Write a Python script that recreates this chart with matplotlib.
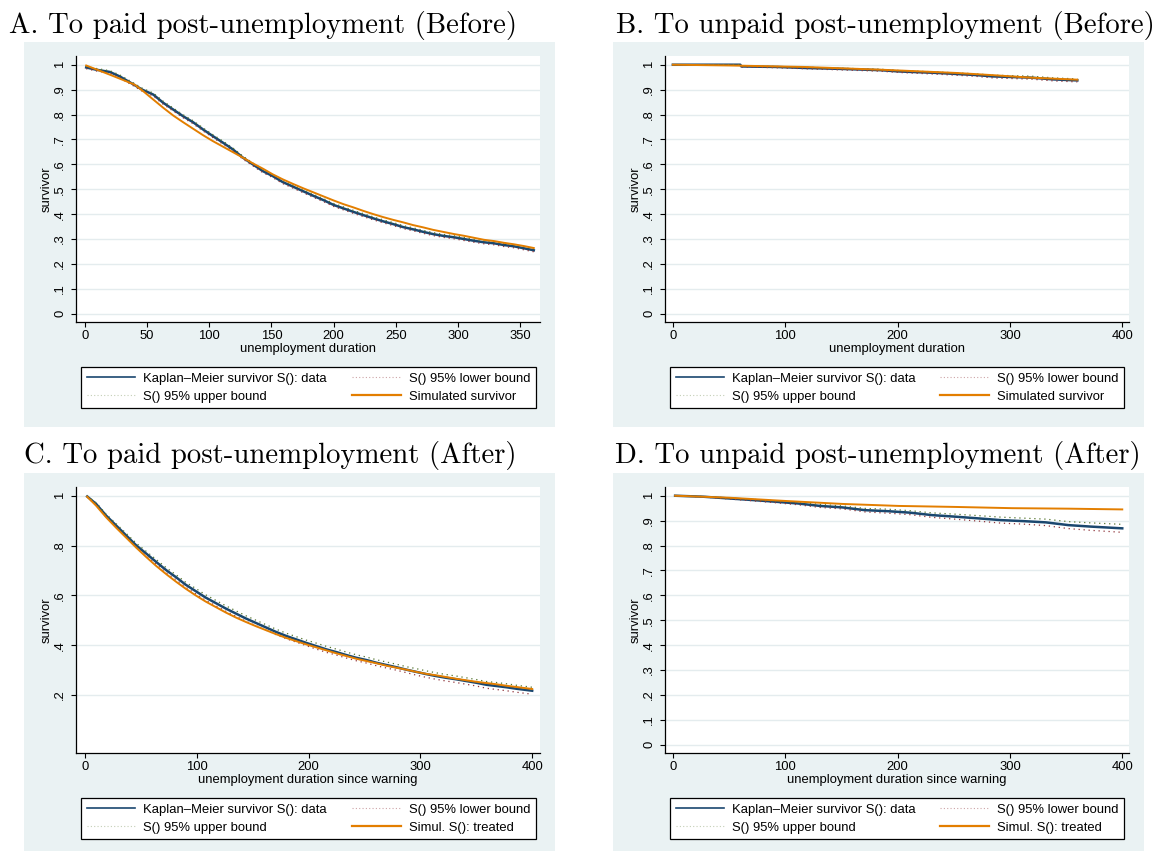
import matplotlib
matplotlib.use("Agg")
import matplotlib.pyplot as plt
from matplotlib.patches import Rectangle
from matplotlib.lines import Line2D

# ---------------- data ----------------
# Panel A: to paid post-unemployment (Before)
a_km_t = [1, 9, 20, 28, 38, 46, 55, 63, 71, 79, 87, 95, 103, 111, 119, 127, 135, 143, 151, 159,
          168, 176, 184, 192, 200, 208, 216, 224, 232, 240, 248, 256, 264, 272, 280, 288, 297, 305,
          313, 321, 329, 337, 345, 353, 361]
a_km = [0.989, 0.980, 0.971, 0.953, 0.924, 0.900, 0.880, 0.847, 0.820, 0.793, 0.769, 0.740, 0.713,
        0.687, 0.660, 0.627, 0.600, 0.573, 0.553, 0.529, 0.509, 0.491, 0.473, 0.456, 0.437, 0.423,
        0.409, 0.396, 0.383, 0.371, 0.360, 0.348, 0.339, 0.329, 0.320, 0.313, 0.307, 0.300, 0.293,
        0.287, 0.283, 0.276, 0.271, 0.263, 0.255]
a_lo = [0.984, 0.975, 0.966, 0.947, 0.918, 0.894, 0.874, 0.841, 0.814, 0.787, 0.763, 0.734, 0.707,
        0.681, 0.654, 0.621, 0.594, 0.567, 0.547, 0.523, 0.503, 0.485, 0.467, 0.450, 0.431, 0.417,
        0.403, 0.390, 0.377, 0.365, 0.354, 0.342, 0.333, 0.323, 0.314, 0.307, 0.301, 0.294, 0.287,
        0.281, 0.277, 0.270, 0.265, 0.257, 0.249]
a_hi = [0.993, 0.985, 0.976, 0.959, 0.930, 0.906, 0.886, 0.853, 0.826, 0.799, 0.775, 0.746, 0.719,
        0.693, 0.666, 0.633, 0.606, 0.579, 0.559, 0.535, 0.515, 0.497, 0.479, 0.462, 0.443, 0.429,
        0.415, 0.402, 0.389, 0.377, 0.366, 0.354, 0.345, 0.335, 0.326, 0.319, 0.313, 0.306, 0.299,
        0.293, 0.289, 0.282, 0.277, 0.269, 0.261]
a_sim_t = [1, 20, 40, 47, 55, 63, 71, 79, 87, 95, 103, 111, 119, 127, 135, 143, 151, 159, 168, 176,
           184, 192, 200, 208, 216, 224, 232, 240, 248, 256, 264, 272, 280, 288, 297, 305, 313, 321,
           329, 337, 345, 353, 361]
a_sim = [0.997, 0.960, 0.920, 0.893, 0.860, 0.827, 0.796, 0.769, 0.743, 0.717, 0.693, 0.671, 0.649,
         0.627, 0.604, 0.583, 0.560, 0.540, 0.520, 0.503, 0.487, 0.471, 0.455, 0.440, 0.427, 0.413,
         0.400, 0.388, 0.377, 0.367, 0.356, 0.347, 0.337, 0.329, 0.320, 0.313, 0.305, 0.297, 0.292,
         0.285, 0.279, 0.272, 0.264]

# Panel B: to unpaid post-unemployment (Before)
b_km_t = [0, 60, 61, 92, 117, 151, 185, 201, 235, 268, 285, 319, 339, 360]
b_km = [1.000, 1.000, 0.993, 0.991, 0.987, 0.983, 0.978, 0.973, 0.967, 0.959, 0.953, 0.948, 0.941, 0.937]
b_lo = [1.000, 0.999, 0.991, 0.988, 0.984, 0.979, 0.974, 0.969, 0.962, 0.954, 0.947, 0.942, 0.935, 0.931]
b_hi = [1.000, 1.000, 0.995, 0.993, 0.990, 0.986, 0.982, 0.977, 0.971, 0.964, 0.958, 0.954, 0.947, 0.943]
b_sim_t = [0, 50, 117, 185, 252, 285, 319, 360]
b_sim = [1.000, 0.997, 0.991, 0.980, 0.967, 0.958, 0.948, 0.940]

# Panel C: to paid post-unemployment (After)
c_km_t = [2, 10, 19, 28, 37, 46, 55, 64, 73, 82, 90, 99, 108, 117, 126, 135, 144, 153, 162, 171,
          180, 189, 198, 207, 216, 225, 234, 243, 252, 261, 270, 279, 288, 296, 305, 314, 323, 332,
          341, 350, 359, 368, 377, 386, 400]
c_km = [0.997, 0.967, 0.920, 0.880, 0.840, 0.800, 0.767, 0.733, 0.700, 0.671, 0.643, 0.617, 0.591,
        0.569, 0.547, 0.527, 0.507, 0.489, 0.471, 0.453, 0.437, 0.423, 0.409, 0.396, 0.383, 0.372,
        0.360, 0.349, 0.340, 0.329, 0.320, 0.311, 0.301, 0.293, 0.284, 0.276, 0.269, 0.263, 0.256,
        0.249, 0.241, 0.236, 0.231, 0.225, 0.217]
c_hi = [0.999, 0.972, 0.926, 0.887, 0.848, 0.809, 0.776, 0.743, 0.710, 0.681, 0.653, 0.628, 0.602,
        0.580, 0.558, 0.538, 0.518, 0.500, 0.482, 0.464, 0.448, 0.434, 0.420, 0.408, 0.395, 0.384,
        0.372, 0.361, 0.352, 0.341, 0.332, 0.323, 0.313, 0.306, 0.297, 0.289, 0.282, 0.276, 0.269,
        0.262, 0.254, 0.250, 0.245, 0.239, 0.231]
c_lo = [0.995, 0.962, 0.914, 0.873, 0.832, 0.791, 0.758, 0.724, 0.690, 0.661, 0.633, 0.606, 0.580,
        0.558, 0.536, 0.516, 0.496, 0.478, 0.460, 0.442, 0.426, 0.412, 0.398, 0.384, 0.371, 0.360,
        0.348, 0.337, 0.328, 0.317, 0.308, 0.299, 0.289, 0.280, 0.271, 0.263, 0.256, 0.250, 0.243,
        0.236, 0.227, 0.222, 0.217, 0.211, 0.203]
c_sim_t = c_km_t
c_sim = [0.996, 0.960, 0.913, 0.871, 0.831, 0.791, 0.753, 0.717, 0.684, 0.653, 0.627, 0.600, 0.575,
         0.553, 0.531, 0.511, 0.493, 0.476, 0.460, 0.444, 0.429, 0.416, 0.403, 0.391, 0.379, 0.367,
         0.356, 0.345, 0.336, 0.327, 0.317, 0.309, 0.301, 0.293, 0.285, 0.279, 0.272, 0.265, 0.259,
         0.253, 0.248, 0.243, 0.237, 0.232, 0.224]

# Panel D: to unpaid post-unemployment (After)
d_km_t = [2, 27, 50, 70, 91, 111, 131, 151, 171, 191, 211, 231, 251, 272, 292, 312, 332, 352, 372, 400]
d_km = [1.000, 0.996, 0.989, 0.983, 0.976, 0.969, 0.959, 0.953, 0.942, 0.938, 0.932, 0.922, 0.916,
        0.909, 0.902, 0.898, 0.893, 0.882, 0.876, 0.869]
d_lo = [1.000, 0.995, 0.987, 0.980, 0.972, 0.964, 0.953, 0.947, 0.935, 0.930, 0.924, 0.913, 0.906,
        0.898, 0.890, 0.886, 0.880, 0.868, 0.861, 0.853]
d_hi = [1.000, 0.997, 0.991, 0.986, 0.980, 0.974, 0.965, 0.959, 0.949, 0.946, 0.940, 0.931, 0.926,
        0.920, 0.914, 0.910, 0.906, 0.896, 0.891, 0.885]
d_sim_t = [2, 50, 100, 151, 201, 251, 302, 352, 400]
d_sim = [1.000, 0.992, 0.979, 0.967, 0.959, 0.955, 0.950, 0.948, 0.945]

titles = ["A. To paid post-unemployment (Before)",
          "B. To unpaid post-unemployment (Before)",
          "C. To paid post-unemployment (After)",
          "D. To unpaid post-unemployment (After)"]
xlabels = ["unemployment duration", "unemployment duration",
           "unemployment duration since warning", "unemployment duration since warning"]
ylabel = "survivor"
xticks_a = [0, 50, 100, 150, 200, 250, 300, 350]
xticks_400 = [0, 100, 200, 300, 400]
yticks_full = [0, 0.1, 0.2, 0.3, 0.4, 0.5, 0.6, 0.7, 0.8, 0.9, 1.0]
yticklabels_full = ["0", ".1", ".2", ".3", ".4", ".5", ".6", ".7", ".8", ".9", "1"]
yticks_c = [0.2, 0.4, 0.6, 0.8, 1.0]
yticklabels_c = [".2", ".4", ".6", ".8", "1"]
legend_km = "Kaplan\u2013Meier survivor S(): data"
legend_lo = "S() 95% lower bound"
legend_hi = "S() 95% upper bound"
legend_sim = ["Simulated survivor", "Simulated survivor", "Simul. S(): treated", "Simul. S(): treated"]

# ---------------- style ----------------
W, H = 1167, 852
NAVY = "#1a476f"
MAROON = "#90353b"
GREEN = "#55752f"
ORANGE = "#e37e00"
BG = "#eaf2f3"
GRID = "#e4ecee"
SANS = "Liberation Sans"
FS = 9.4

fig = plt.figure(figsize=(W / 100, H / 100), dpi=100)
fig.patch.set_facecolor("white")


def fbox(x0, y0, x1, y1):
    return [x0 / W, 1 - y1 / H, (x1 - x0) / W, (y1 - y0) / H]


panels = [
    dict(data=(a_km_t, a_km, a_lo, a_hi, a_sim_t, a_sim), gray=(24, 42, 555, 427),
         ax=(76, 56, 540, 322), leg=(81, 366, 536, 409), title_xy=(9, 33),
         xlim=(-7.2, 366), xticks=xticks_a, yt=(yticks_full, yticklabels_full)),
    dict(data=(b_km_t, b_km, b_lo, b_hi, b_sim_t, b_sim), gray=(613, 42, 1144, 427),
         ax=(665, 56, 1129, 322), leg=(670, 366, 1124, 409), title_xy=(616, 33),
         xlim=(-7, 406), xticks=xticks_400, yt=(yticks_full, yticklabels_full)),
    dict(data=(c_km_t, c_km, c_lo, c_hi, c_sim_t, c_sim), gray=(24, 473, 555, 851),
         ax=(76, 487, 540, 753), leg=(81, 797, 536, 840), title_xy=(24, 463),
         xlim=(-8, 407), xticks=xticks_400, yt=(yticks_c, yticklabels_c)),
    dict(data=(d_km_t, d_km, d_lo, d_hi, d_sim_t, d_sim), gray=(613, 473, 1144, 851),
         ax=(665, 487, 1129, 753), leg=(670, 797, 1124, 840), title_xy=(615, 463),
         xlim=(-7, 406), xticks=xticks_400, yt=(yticks_full, yticklabels_full)),
]

for i, p in enumerate(panels):
    gx0, gy0, gx1, gy1 = p["gray"]
    fig.add_artist(Rectangle((gx0 / W, 1 - gy1 / H), (gx1 - gx0) / W, (gy1 - gy0) / H,
                             transform=fig.transFigure, facecolor=BG, edgecolor="none", zorder=0))
    tx, ty = p["title_xy"]
    fig.text(tx / W, 1 - ty / H, titles[i], fontfamily="cmr10", fontsize=20.7,
             ha="left", va="baseline")

    ax = fig.add_axes(fbox(*p["ax"]))
    ax.set_facecolor("white")
    kt, km, lo, hi, st, sim = p["data"]
    ax.plot(kt, km, color=NAVY, lw=1.8, solid_joinstyle="round", zorder=3)
    ax.plot(kt, lo, color=MAROON, lw=0.9, ls=(0, (1, 3)), zorder=4)
    ax.plot(kt, hi, color=GREEN, lw=0.9, ls=(0, (1, 3)), zorder=4)
    ax.plot(st, sim, color=ORANGE, lw=1.4, zorder=5)

    ax.set_xlim(*p["xlim"])
    ax.set_ylim(-0.033, 1.035)
    ax.set_xticks(p["xticks"])
    ax.set_xticklabels([str(v) for v in p["xticks"]], fontfamily=SANS, fontsize=FS)
    ax.set_yticks(p["yt"][0])
    ax.set_yticklabels(p["yt"][1], fontfamily=SANS, fontsize=FS, rotation=90, va="center")
    ax.tick_params(axis="both", direction="out", length=3.6, width=0.8, color="black")
    ax.tick_params(axis="x", pad=2.5)
    ax.tick_params(axis="y", pad=3.5)
    for yv in p["yt"][0]:
        ax.axhline(yv, color=GRID, lw=1.0, zorder=1)
    for s in ["top", "right"]:
        ax.spines[s].set_visible(False)
    for s in ["left", "bottom"]:
        ax.spines[s].set_linewidth(0.9)
        ax.spines[s].set_color("black")
    ax.set_xlabel(xlabels[i], fontfamily=SANS, fontsize=FS, labelpad=0.5)
    ax.set_ylabel(ylabel, fontfamily=SANS, fontsize=FS, labelpad=1)

    handles = [Line2D([], [], color=NAVY, lw=1.2),
               Line2D([], [], color=MAROON, lw=0.8, ls=(0, (1, 2)), alpha=0.45),
               Line2D([], [], color=GREEN, lw=0.8, ls=(0, (1, 2)), alpha=0.35),
               Line2D([], [], color=ORANGE, lw=1.6)]
    labels = [legend_km, legend_lo, legend_hi, legend_sim[i]]
    order = [0, 2, 1, 3]
    lx0, ly0, lx1, ly1 = p["leg"]
    leg = fig.legend([handles[k] for k in order], [labels[k] for k in order],
                     ncol=2, mode="expand", loc="center",
                     bbox_to_anchor=(lx0 / W, 1 - ly1 / H, (lx1 - lx0) / W, (ly1 - ly0) / H),
                     bbox_transform=fig.transFigure,
                     prop={"family": SANS, "size": FS}, frameon=True, fancybox=False,
                     edgecolor="black", facecolor="white", framealpha=1,
                     handlelength=3.7, handletextpad=0.6, labelspacing=0.45,
                     borderpad=0.45, borderaxespad=0)
    leg.get_frame().set_linewidth(0.9)

fig.savefig("out.png", dpi=100, facecolor="white")
